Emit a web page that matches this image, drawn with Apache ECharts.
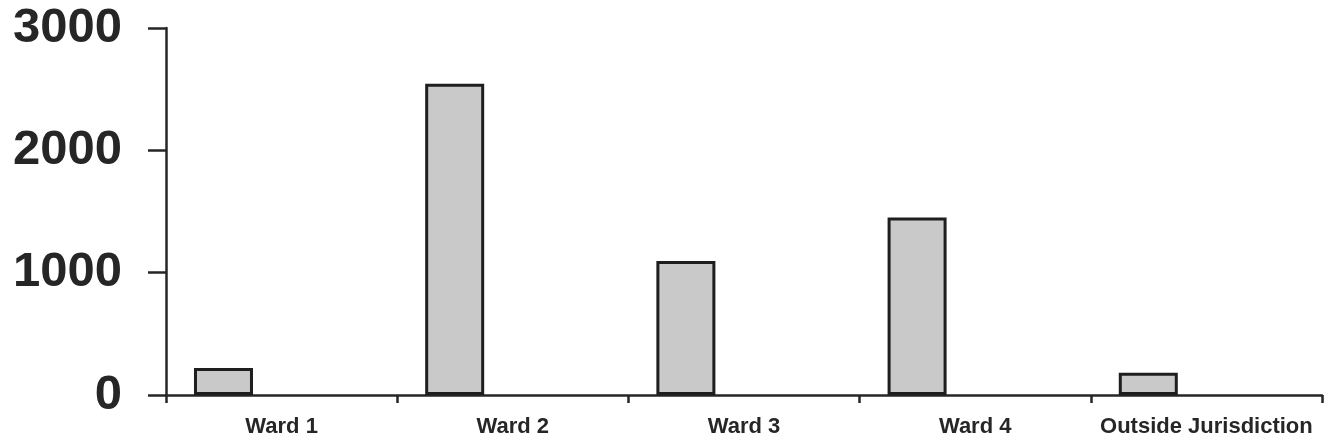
<!DOCTYPE html>
<html>
<head>
<meta charset="utf-8">
<script src="https://cdn.jsdelivr.net/npm/echarts@6/dist/echarts.min.js"></script>
<style>
html,body{margin:0;padding:0;background:#fff;}
#chart{width:1327px;height:446px;}
</style>
</head>
<body>
<div id="chart"></div>
<script>
var categories = ['Ward 1', 'Ward 2', 'Ward 3', 'Ward 4', 'Outside Jurisdiction'];
var counts = [220, 2545, 1095, 1450, 182];
var yTicks = [0, 1000, 2000, 3000];

var chart = echarts.init(document.getElementById('chart'));
chart.setOption({
  animation: false,
  backgroundColor: '#fff',
  grid: { left: 166, right: 5, top: 28, bottom: 51, containLabel: false },
  xAxis: {
    type: 'category',
    data: categories,
    boundaryGap: true,
    axisLine: { lineStyle: { color: '#262626', width: 2.5 } },
    axisTick: { show: true, interval: 0, length: 8, alignWithLabel: false, lineStyle: { color: '#262626', width: 2.5 } },
    axisLabel: { interval: 0, color: '#262626', fontFamily: 'Liberation Sans, Arial, sans-serif', fontWeight: 'bold', fontSize: 22, margin: 21 },
    splitLine: { show: false }
  },
  yAxis: {
    type: 'value',
    min: yTicks[0],
    max: yTicks[yTicks.length - 1],
    interval: 1000,
    axisLine: { show: true, lineStyle: { color: '#262626', width: 2.5 } },
    axisTick: { show: true, inside: false, length: 18, lineStyle: { color: '#262626', width: 2.5 } },
    axisLabel: {
      color: '#262626', fontFamily: 'Liberation Sans, Arial, sans-serif', fontWeight: 'bold', fontSize: 49, margin: 44,
      formatter: function (v) { return String(v); }
    },
    splitLine: { show: false }
  },
  series: [
    {
      name: 'Count',
      type: 'bar',
      data: counts,
      barWidth: 59,
      barGap: '97%',
      itemStyle: { color: '#c9c9c9', borderColor: '#1e1e1e', borderWidth: 3 }
    },
    {
      name: 'blank',
      type: 'bar',
      data: [],
      barWidth: 59
    }
  ]
});
</script>
</body>
</html>
